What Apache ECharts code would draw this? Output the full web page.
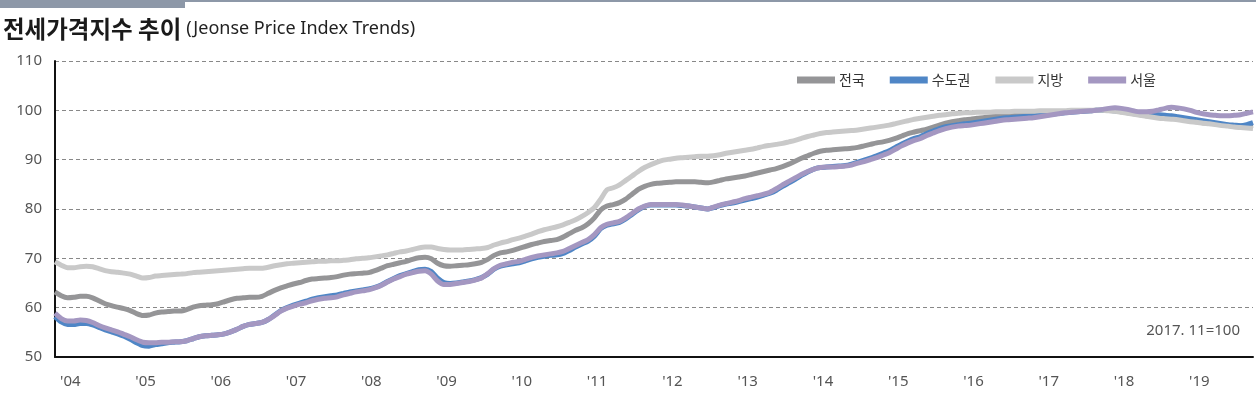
<!DOCTYPE html>
<html>
<head>
<meta charset="utf-8">
<script src="https://cdn.jsdelivr.net/npm/echarts@6/dist/echarts.min.js"></script>
<style>
  html, body { margin: 0; padding: 0; background: #fff; }
  #chart { width: 1256px; height: 398px; }
</style>
</head>
<body>
<div id="chart"></div>
<script>
// 2004.01 ~ 2019.12, 월별 (2017.11=100)
const years = ['04', '05', '06', '07', '08', '09', '10', '11', '12', '13', '14', '15', '16', '17', '18', '19']
const seriesNames = ['전국', '수도권', '지방', '서울']
const colors = ['#959597', '#4f86c6', '#c9c9c9', '#a497c1']

const national = [
  63.2, 62.4, 62.0, 62.1, 62.3, 62.3, 62.0, 61.4, 60.8, 60.4, 60.1, 59.8,
  59.4, 58.8, 58.4, 58.5, 58.9, 59.1, 59.2, 59.3, 59.3, 59.6, 60.1, 60.4,
  60.5, 60.6, 60.8, 61.2, 61.6, 61.9, 62.0, 62.1, 62.1, 62.3, 62.9, 63.5,
  64.0, 64.4, 64.8, 65.1, 65.5, 65.8, 65.9, 66.0, 66.1, 66.3, 66.6, 66.8,
  66.9, 67.0, 67.1, 67.5, 68.0, 68.5, 68.8, 69.1, 69.4, 69.8, 70.1, 70.2,
  69.9, 69.0, 68.5, 68.4, 68.5, 68.6, 68.7, 68.9, 69.2, 69.8, 70.6, 71.1,
  71.3, 71.6, 72.0, 72.4, 72.8, 73.1, 73.4, 73.6, 73.8, 74.3, 75.0, 75.7,
  76.2, 77.0, 78.2, 79.8, 80.6, 80.9, 81.3, 82.0, 83.0, 84.0, 84.6, 85.0,
  85.2, 85.3, 85.4, 85.5, 85.5, 85.5, 85.5, 85.4, 85.3, 85.5, 85.8, 86.1,
  86.3, 86.5, 86.7, 87.0, 87.3, 87.6, 87.9, 88.2, 88.6, 89.1, 89.7, 90.3,
  90.8, 91.3, 91.7, 91.9, 92.0, 92.1, 92.2, 92.3, 92.5, 92.8, 93.1, 93.4,
  93.6, 93.9, 94.3, 94.8, 95.3, 95.6, 95.9, 96.2, 96.6, 97.0, 97.4, 97.7,
  97.9, 98.1, 98.2, 98.4, 98.5, 98.7, 98.8, 98.9, 99.0, 99.1, 99.2, 99.3,
  99.4, 99.5, 99.6, 99.6, 99.7, 99.7, 99.8, 99.8, 99.9, 99.9, 100.0, 100.0,
  100.0, 99.9, 99.7, 99.5, 99.3, 99.1, 98.9, 98.8, 98.6, 98.5, 98.4, 98.3,
  98.1, 97.9, 97.7, 97.5, 97.4, 97.2, 97.1, 97.0, 96.9, 96.8, 96.8, 96.9,
]

const capital = [
  58.2, 57.1, 56.6, 56.6, 56.8, 56.8, 56.5, 56.0, 55.5, 55.1, 54.7, 54.2,
  53.6, 52.9, 52.3, 52.2, 52.5, 52.7, 52.9, 53.0, 53.1, 53.3, 53.7, 54.1,
  54.3, 54.4, 54.5, 54.7, 55.1, 55.6, 56.2, 56.6, 56.8, 57.0, 57.6, 58.5,
  59.4, 60.0, 60.5, 60.9, 61.3, 61.7, 62.0, 62.2, 62.4, 62.6, 62.9, 63.2,
  63.4, 63.6, 63.8, 64.1, 64.6, 65.3, 65.9, 66.5, 66.9, 67.3, 67.7, 67.8,
  67.3, 66.0, 65.1, 64.9, 65.0, 65.2, 65.4, 65.7, 66.1, 66.8, 67.8, 68.4,
  68.7, 68.9, 69.1, 69.5, 69.9, 70.2, 70.4, 70.6, 70.7, 71.0, 71.6, 72.3,
  72.9, 73.5, 74.5, 76.0, 76.7, 77.0, 77.3, 78.0, 78.9, 79.8, 80.5, 80.8,
  80.8, 80.8, 80.8, 80.8, 80.7, 80.6, 80.4, 80.2, 80.0, 80.3, 80.7, 81.0,
  81.2, 81.5, 81.8, 82.1, 82.4, 82.8, 83.2, 83.8, 84.6, 85.3, 86.0, 86.8,
  87.5, 88.1, 88.4, 88.5, 88.6, 88.7, 88.8, 89.1, 89.5, 89.9, 90.3, 90.8,
  91.3, 91.8, 92.5, 93.2, 93.8, 94.3, 94.7, 95.3, 95.8, 96.3, 96.7, 96.9,
  97.1, 97.3, 97.4, 97.6, 97.8, 98.0, 98.2, 98.4, 98.5, 98.6, 98.7, 98.8,
  98.9, 99.0, 99.1, 99.2, 99.4, 99.5, 99.6, 99.7, 99.8, 99.9, 100.0, 100.0,
  100.0, 99.9, 99.8, 99.6, 99.5, 99.4, 99.3, 99.2, 99.1, 99.0, 98.9, 98.7,
  98.5, 98.3, 98.1, 97.9, 97.7, 97.5, 97.3, 97.1, 97.0, 96.9, 97.1, 97.5,
]

const provinces = [
  69.3, 68.6, 68.1, 68.1, 68.3, 68.4, 68.3, 67.9, 67.5, 67.3, 67.2, 67.0,
  66.8, 66.4, 66.0, 66.1, 66.4, 66.5, 66.6, 66.7, 66.8, 66.9, 67.1, 67.2,
  67.3, 67.4, 67.5, 67.6, 67.7, 67.8, 67.9, 68.0, 68.0, 68.0, 68.2, 68.5,
  68.7, 68.9, 69.0, 69.1, 69.2, 69.3, 69.4, 69.4, 69.5, 69.5, 69.6, 69.7,
  69.9, 70.0, 70.1, 70.3, 70.5, 70.7, 71.0, 71.3, 71.5, 71.8, 72.1, 72.3,
  72.3, 72.0, 71.8, 71.7, 71.7, 71.7, 71.8, 71.9, 72.0, 72.2, 72.7, 73.1,
  73.4, 73.8, 74.1, 74.5, 74.9, 75.4, 75.8, 76.1, 76.4, 76.8, 77.3, 77.8,
  78.5, 79.3, 80.3, 82.0, 83.9, 84.3, 84.9, 85.8, 86.7, 87.6, 88.4, 89.0,
  89.5, 89.9, 90.1, 90.3, 90.4, 90.5, 90.6, 90.7, 90.7, 90.8, 91.0, 91.3,
  91.5, 91.7, 91.9, 92.1, 92.4, 92.7, 92.9, 93.1, 93.3, 93.6, 93.9, 94.3,
  94.7, 95.0, 95.3, 95.5, 95.6, 95.7, 95.8, 95.9, 96.0, 96.2, 96.4, 96.6,
  96.8, 97.0, 97.3, 97.6, 97.9, 98.2, 98.4, 98.6, 98.8, 99.0, 99.1, 99.3,
  99.4, 99.5, 99.5, 99.6, 99.6, 99.6, 99.7, 99.7, 99.7, 99.8, 99.8, 99.8,
  99.8, 99.9, 99.9, 99.9, 99.9, 99.9, 100.0, 100.0, 100.0, 100.0, 100.0, 100.0,
  99.9, 99.8, 99.6, 99.4, 99.2, 99.0, 98.8, 98.6, 98.4, 98.3, 98.2, 98.1,
  97.9, 97.7, 97.6, 97.4, 97.3, 97.1, 96.9, 96.8, 96.6, 96.5, 96.4, 96.3,
]

const seoul = [
  58.9, 57.8, 57.3, 57.3, 57.5, 57.4, 57.0, 56.4, 55.9, 55.5, 55.1, 54.6,
  54.1, 53.5, 53.0, 52.9, 52.9, 53.0, 53.0, 53.1, 53.1, 53.3, 53.7, 54.1,
  54.3, 54.4, 54.5, 54.7, 55.1, 55.6, 56.2, 56.6, 56.8, 57.0, 57.6, 58.4,
  59.3, 59.9, 60.3, 60.7, 61.0, 61.4, 61.7, 61.9, 62.0, 62.2, 62.6, 62.9,
  63.2, 63.4, 63.6, 64.0, 64.5, 65.2, 65.8, 66.3, 66.8, 67.1, 67.4, 67.5,
  66.8, 65.4, 64.7, 64.7, 64.9, 65.1, 65.3, 65.6, 66.0, 66.9, 67.9, 68.6,
  68.9, 69.2, 69.4, 69.8, 70.2, 70.5, 70.7, 70.9, 71.1, 71.4, 72.0, 72.6,
  73.2, 73.8, 74.8, 76.2, 76.9, 77.2, 77.5, 78.2, 79.1, 80.0, 80.6, 80.9,
  80.9, 80.9, 80.9, 80.9, 80.8, 80.6, 80.4, 80.2, 80.0, 80.4, 80.8, 81.1,
  81.4, 81.7, 82.1, 82.4, 82.7, 83.0, 83.4, 84.1, 84.9, 85.6, 86.3, 87.0,
  87.6, 88.1, 88.4, 88.5, 88.5, 88.6, 88.7, 88.9, 89.3, 89.6, 90.0, 90.4,
  90.9, 91.4, 92.1, 92.8, 93.4, 93.9, 94.3, 94.9, 95.4, 95.9, 96.3, 96.6,
  96.8, 96.9, 97.0, 97.2, 97.4, 97.6, 97.8, 98.0, 98.1, 98.2, 98.3, 98.4,
  98.5, 98.7, 98.9, 99.1, 99.3, 99.5, 99.6, 99.7, 99.8, 99.9, 100.0, 100.2,
  100.4, 100.5, 100.4, 100.2, 99.9, 99.7, 99.7, 99.8, 100.1, 100.4, 100.6, 100.5,
  100.3, 100.0, 99.6, 99.3, 99.1, 99.0, 98.9, 98.9, 99.0, 99.1, 99.4, 99.7,
]

const months = []
years.forEach((y) => {
  for (let m = 1; m <= 12; m++) months.push(`20${y}.${m < 10 ? '0' + m : m}`)
})

const seriesData = [national, capital, provinces, seoul]
const font = '"Noto Sans", "Noto Sans CJK KR", sans-serif'

const chart = echarts.init(document.getElementById('chart'))

const option = {
  animation: false,
  backgroundColor: '#fff',
  title: {
    left: -2,
    top: 12,
    text: '{a|전세가격지수 추이} {b|(Jeonse Price Index Trends)}',
    textStyle: {
      fontWeight: 'normal',
      rich: {
        a: { fontFamily: '"Noto Sans CJK KR", sans-serif', fontSize: 23.5, fontWeight: 'bold', color: '#1a1a1a' },
        b: { fontFamily: font, fontSize: 18, fontWeight: 'normal', color: '#222' },
      },
    },
  },
  legend: {
    left: 792,
    top: 68,
    icon: 'rect',
    itemWidth: 38,
    itemHeight: 7,
    itemGap: 25,
    selectedMode: false,
    textStyle: { fontFamily: '"Noto Sans CJK KR", sans-serif', fontSize: 14, color: '#333', padding: [0, 0, 0, -1] },
    data: seriesNames,
  },
  graphic: [
    { type: 'rect', shape: { x: 0, y: 0, width: 1256, height: 2 }, style: { fill: '#8d98a8' } },
    { type: 'rect', shape: { x: 0, y: 0, width: 185, height: 8 }, style: { fill: '#8d98a8' } },
    {
      type: 'text',
      right: 16,
      top: 323,
      style: { text: '2017. 11=100', font: `15px ${font}`, fill: '#555' },
    },
  ],
  grid: { left: 55, right: 3, top: 61, bottom: 41 },
  xAxis: {
    type: 'category',
    data: months,
    boundaryGap: false,
    axisLine: { lineStyle: { color: '#111', width: 2 } },
    axisTick: { show: false },
    axisLabel: {
      interval: (i) => i % 12 === 0,
      formatter: (v) => `'${v.slice(2, 4)}`,
      align: 'left',
      padding: [0, 0, 0, 5],
      margin: 17,
      fontFamily: font,
      fontSize: 15,
      color: '#555',
    },
    splitLine: { show: false },
  },
  yAxis: {
    type: 'value',
    min: 50,
    max: 110,
    interval: 10,
    axisLine: { show: true, lineStyle: { color: '#111', width: 2 } },
    axisTick: { show: false },
    axisLabel: { margin: 13, fontFamily: font, fontSize: 15, color: '#555' },
    splitLine: { lineStyle: { color: '#888', type: [4, 3], width: 1 } },
  },
  series: seriesNames.map((name, i) => ({
    name,
    type: 'line',
    data: seriesData[i],
    showSymbol: false,
    smooth: 0.2,
    color: colors[i],
    lineStyle: { width: 5, color: colors[i] },
    itemStyle: { color: colors[i] },
  })),
}

chart.setOption(option)
</script>
</body>
</html>
